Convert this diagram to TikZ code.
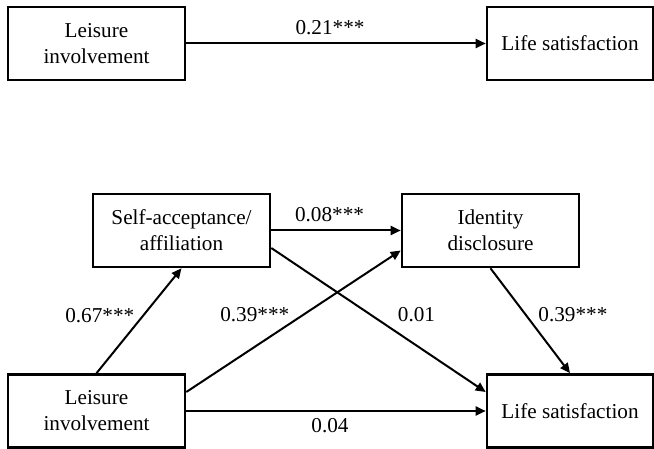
\documentclass[tikz,border=0pt]{standalone}
\usepackage{fontspec}
\setmainfont{Liberation Serif}
\usetikzlibrary{arrows.meta}

\begin{document}
\begin{tikzpicture}[x=0.5pt,y=-0.5pt,
    every node/.style={font=\fontsize{10.6}{13}\selectfont},
    box/.style={draw,line width=1.3pt,minimum width=88.5pt,minimum height=36.5pt,align=center,inner sep=0pt},
    link/.style={line width=1pt,-{Triangle[length=5pt,width=4.5pt]}},
    coef/.style={inner sep=1pt}]
      \useasboundingbox (0,0) rectangle (654,449);

      % total effect
      \node[box] (lei1) at (96.5,43.5) {Leisure\\involvement};
      \node[box,minimum width=83pt] (life1) at (570,43.5) {Life satisfaction};
      \draw[link] (lei1) -- node[coef,above=3pt,pos=0.48]{0.21***} (life1);

      % mediation model
      \node[box] (self) at (181.5,230.5) {Self-acceptance/\\affiliation};
      \node[box] (ident) at (490.5,230.5) {Identity\\disclosure};
      \node[box] (lei2) at (96.5,411) {Leisure\\involvement};
      \node[box,minimum width=83pt] (life2) at (570,411) {Life satisfaction};

      \draw[link] (lei2.north) -- node[coef,left=3pt,pos=0.55]{0.67***} (self.south);
      \draw[link] (self.east) -- node[coef,above=3pt,pos=0.45]{0.08***} (ident.west);
      \draw[link] ([yshift=9.5pt]lei2.east) -- node[coef,left=6pt,pos=0.55]{0.39***} ([yshift=-10pt]ident.west);
      \draw[link] ([yshift=-8.75pt]self.east) -- node[coef,right=12pt,pos=0.465]{0.01} ([yshift=9.5pt]life2.west);
      \draw[link] (ident.south) -- node[coef,right=5pt,pos=0.44]{0.39***} (life2.north);
      \draw[link] (lei2) -- node[coef,below=2pt,pos=0.48]{0.04} (life2);
\end{tikzpicture}
\end{document}
